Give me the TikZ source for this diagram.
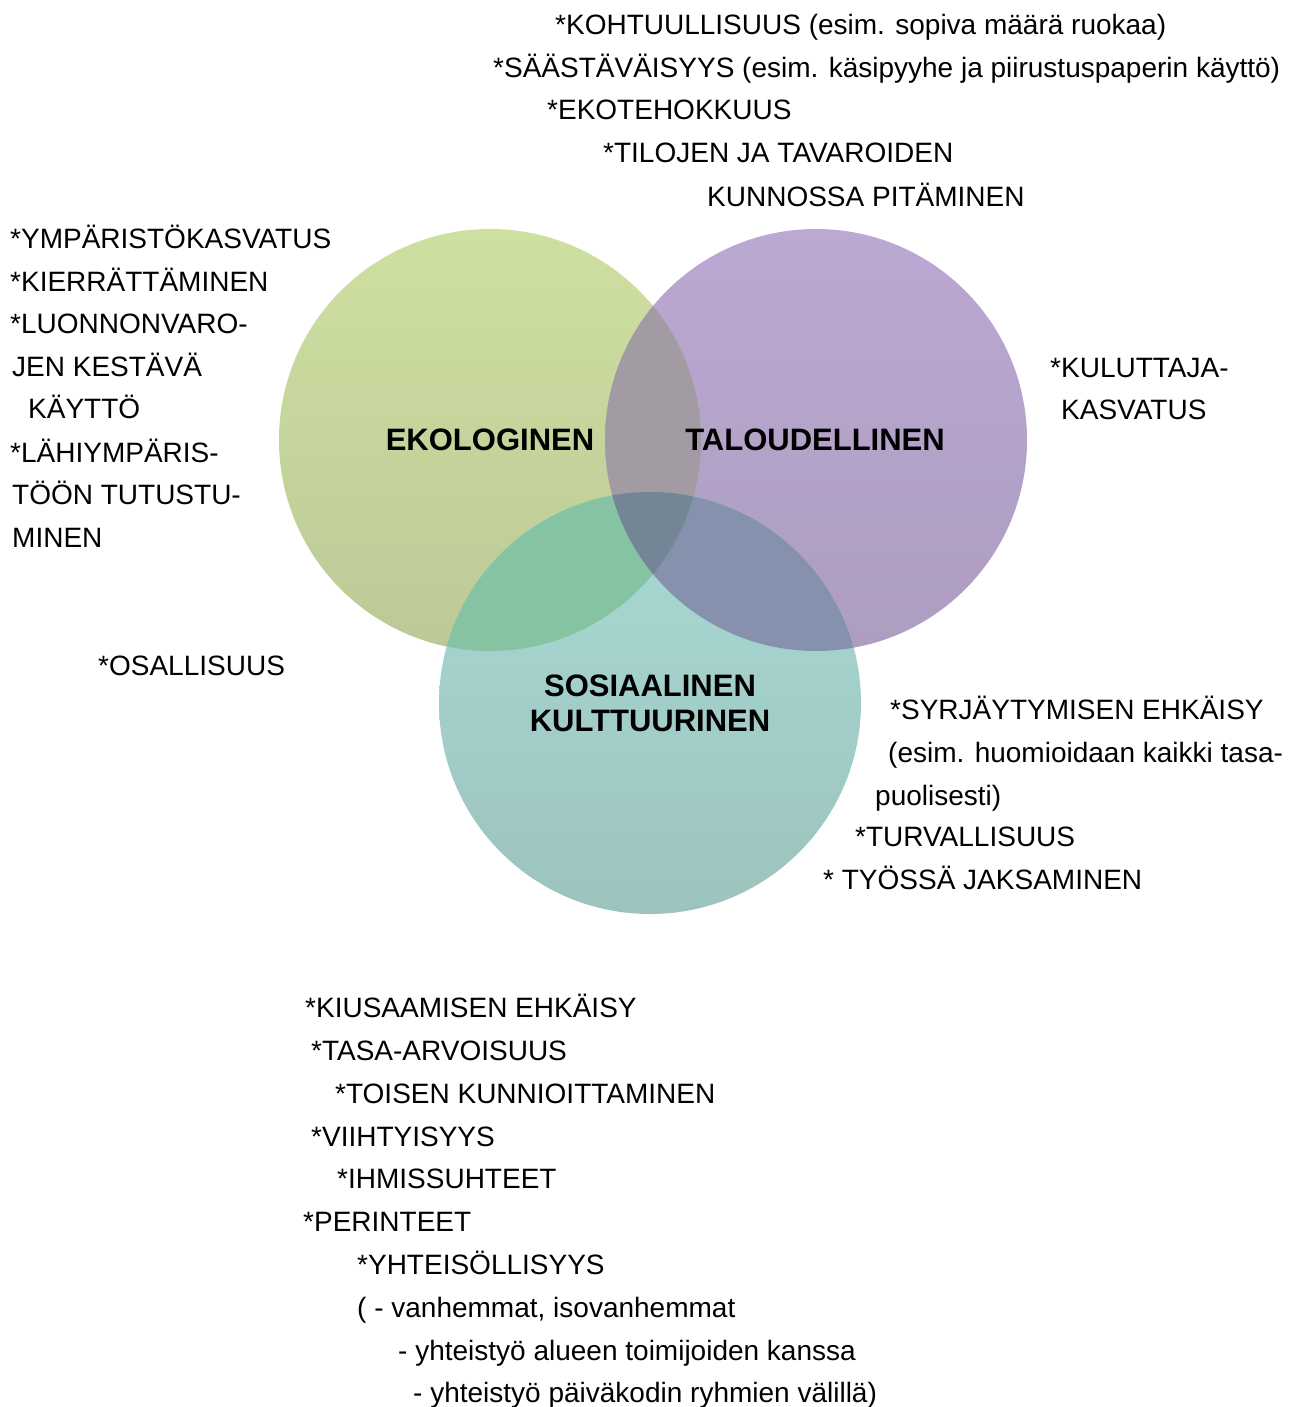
\documentclass[tikz,border=0pt]{standalone}
\usepackage{fontspec}
\setmainfont{Liberation Sans}
\definecolor{ekoGreen}{HTML}{CEE0A0}
\definecolor{ekoGreenB}{HTML}{BCC997}
\definecolor{taloPurple}{HTML}{BBA8D3}
\definecolor{taloPurpleB}{HTML}{AD9DBF}
\definecolor{sosTeal}{HTML}{A8DAD5}
\definecolor{sosTealB}{HTML}{9DC3BE}
\definecolor{ekoTalo}{HTML}{A29BA4}
\definecolor{ekoSos}{HTML}{86C3A3}
\definecolor{taloSos}{HTML}{8591AD}
\definecolor{allThree}{HTML}{748696}
\tikzset{
  item/.style = {anchor=base west, inner sep=0pt, font=\fontsize{28}{34}\selectfont},
  hub/.style = {inner sep=0pt, align=center, font=\bfseries\fontsize{31}{35}\selectfont}
}
\begin{document}
\begin{tikzpicture}[x=1pt, y=-1pt]
\useasboundingbox (0,0) rectangle (1304,1407);
\coordinate (eko) at (490,440);
\coordinate (talo) at (816,440);
\coordinate (sos) at (650,703);

% circles
\shade[top color=ekoGreen, bottom color=ekoGreenB] (eko) circle[radius=211pt];
\shade[top color=taloPurple, bottom color=taloPurpleB] (talo) circle[radius=211pt];
\shade[top color=sosTeal, bottom color=sosTealB] (sos) circle[radius=211pt];

% overlaps
\begin{scope}
  \clip (eko) circle[radius=211pt];
  \fill[ekoTalo] (talo) circle[radius=211pt];
  \fill[ekoSos] (sos) circle[radius=211pt];
\end{scope}
\begin{scope}
  \clip (talo) circle[radius=211pt];
  \fill[taloSos] (sos) circle[radius=211pt];
  \clip (eko) circle[radius=211pt];
  \fill[allThree] (sos) circle[radius=211pt];
\end{scope}

% labels
\node[hub] (ekoLabel) at (490,440) {EKOLOGINEN};
\node[hub] (taloLabel) at (815,440) {TALOUDELLINEN};
\node[hub] (sosLabel) at (650,703) {SOSIAALINEN\\KULTTUURINEN};

% top
\node[item] (top1) at (555,35) {*KOHTUULLISUUS (esim. sopiva määrä ruokaa)};
\node[item] (top2) at (493,78) {*SÄÄSTÄVÄISYYS (esim. käsipyyhe ja piirustuspaperin käyttö)};
\node[item] (top3) at (547,120) {*EKOTEHOKKUUS};
\node[item] (top4) at (603,163) {*TILOJEN JA TAVAROIDEN};
\node[item] (top5) at (707,206) {KUNNOSSA PITÄMINEN};

% left
\node[item] (left1) at (10,248) {*YMPÄRISTÖKASVATUS};
\node[item] (left2) at (10,291) {*KIERRÄTTÄMINEN};
\node[item] (left3) at (10,333) {*LUONNONVARO-};
\node[item] (left4) at (12,376) {JEN KESTÄVÄ};
\node[item] (left5) at (28,418) {KÄYTTÖ};
\node[item] (left6) at (10,462) {*LÄHIYMPÄRIS-};
\node[item] (left7) at (12,504) {TÖÖN TUTUSTU-};
\node[item] (left8) at (12,547) {MINEN};
\node[item] (left9) at (98,675) {*OSALLISUUS};

% right
\node[item] (right1) at (1050,377) {*KULUTTAJA-};
\node[item] (right2) at (1061,419) {KASVATUS};
\node[item] (right3) at (890,719) {*SYRJÄYTYMISEN EHKÄISY};
\node[item] (right4) at (888,762) {(esim. huomioidaan kaikki tasa-};
\node[item] (right5) at (875,805) {puolisesti)};
\node[item] (right6) at (855,846) {*TURVALLISUUS};
\node[item] (right7) at (823,889) {* TYÖSSÄ JAKSAMINEN};

% bottom
\node[item] (bot1) at (305,1017) {*KIUSAAMISEN EHKÄISY};
\node[item] (bot2) at (311,1060) {*TASA-ARVOISUUS};
\node[item] (bot3) at (335,1103) {*TOISEN KUNNIOITTAMINEN};
\node[item] (bot4) at (311,1146) {*VIIHTYISYYS};
\node[item] (bot5) at (337,1188) {*IHMISSUHTEET};
\node[item] (bot6) at (303,1231) {*PERINTEET};
\node[item] (bot7) at (357,1274) {*YHTEISÖLLISYYS};
\node[item] (bot8) at (357,1317) {( - vanhemmat, isovanhemmat};
\node[item] (bot9) at (398,1360) {- yhteistyö alueen toimijoiden kanssa};
\node[item] (bot10) at (413,1402) {- yhteistyö päiväkodin ryhmien välillä)};
\end{tikzpicture}
\end{document}
